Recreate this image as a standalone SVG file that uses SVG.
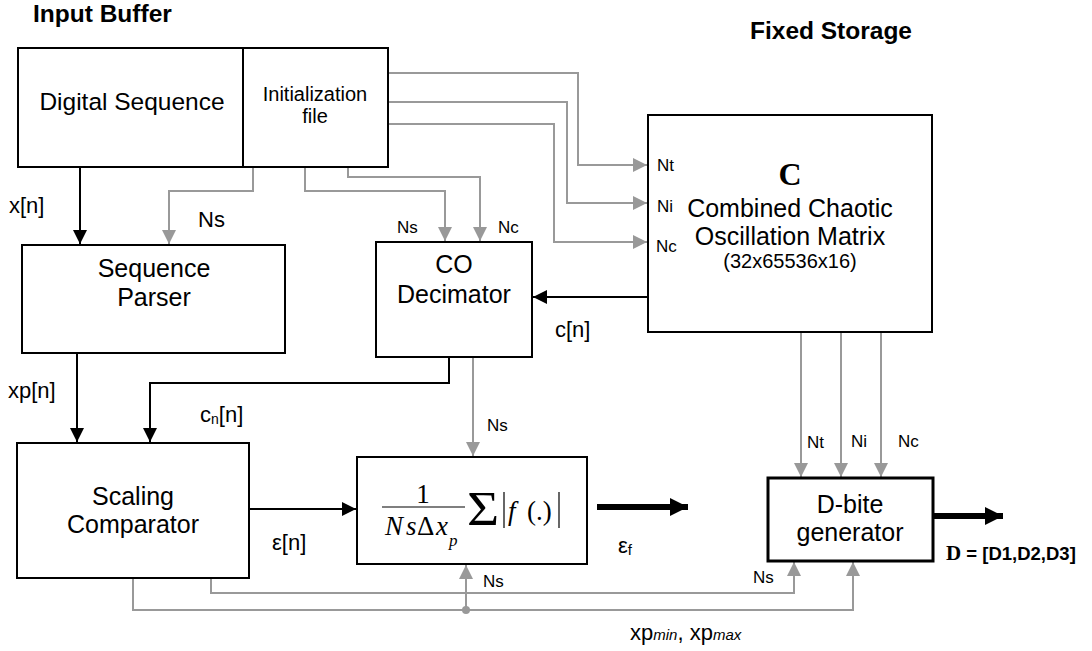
<svg xmlns="http://www.w3.org/2000/svg" width="1092" height="651" viewBox="0 0 1092 651">
<style>
.box{fill:#fff;stroke:#000;stroke-width:2}
.t{font-family:"Liberation Sans",Arial,sans-serif;fill:#000}
.blk{fill:none;stroke:#000;stroke-width:2}
.gry{fill:none;stroke:#999;stroke-width:2}
.ser{font-family:"Liberation Serif","Times New Roman",serif;fill:#000}
.big{font-size:25px}
.mid{font-size:22px}
.sm{font-size:17px}
</style>
<defs>
<marker id="ab" markerUnits="userSpaceOnUse" markerWidth="15" markerHeight="14" refX="14" refY="7" orient="auto"><path d="M0,0 L14,7 L0,14 z" fill="#000"/></marker>
<marker id="ag" markerUnits="userSpaceOnUse" markerWidth="15" markerHeight="14" refX="14" refY="7" orient="auto"><path d="M0,0 L14,7 L0,14 z" fill="#999"/></marker>
<marker id="at" markerUnits="userSpaceOnUse" markerWidth="19" markerHeight="18" refX="18" refY="9" orient="auto"><path d="M0,0 L18,9 L0,18 z" fill="#000"/></marker>
</defs>

<text class="t" x="33" y="22" font-size="24.5" font-weight="bold">Input Buffer</text>
<text class="t" x="912" y="39" font-size="24.5" font-weight="bold" text-anchor="end">Fixed Storage</text>

<g id="connectors">
<path class="blk" d="M80,167 V244" marker-end="url(#ab)"/>
<path class="blk" d="M77,353 V442" marker-end="url(#ab)"/>
<path class="blk" d="M449,357 V383 H150 V442" marker-end="url(#ab)"/>
<path class="blk" d="M648,297 H533" marker-end="url(#ab)"/>
<path class="blk" d="M249,509 H356" marker-end="url(#ab)"/>
<path d="M597,507 H688" fill="none" stroke="#000" stroke-width="6" marker-end="url(#at)"/>
<path d="M933,516 H1003" fill="none" stroke="#000" stroke-width="6" marker-end="url(#at)"/>
<path class="gry" d="M388,73 H578 V165 H647" marker-end="url(#ag)"/>
<path class="gry" d="M388,102 H567 V203 H647" marker-end="url(#ag)"/>
<path class="gry" d="M388,124 H554 V242 H647" marker-end="url(#ag)"/>
<path class="gry" d="M253,167 V191 H169 V244" marker-end="url(#ag)"/>
<path class="gry" d="M305,167 V191 H445 V241" marker-end="url(#ag)"/>
<path class="gry" d="M348,167 V177 H480 V241" marker-end="url(#ag)"/>
<path class="gry" d="M473,357 V456" marker-end="url(#ag)"/>
<path class="gry" d="M801,332 V477" marker-end="url(#ag)"/>
<path class="gry" d="M841,332 V477" marker-end="url(#ag)"/>
<path class="gry" d="M881,332 V477" marker-end="url(#ag)"/>
<path class="gry" d="M211,578 V593 H794 V562" marker-end="url(#ag)"/>
<path class="gry" d="M133,578 V610 H853 V562" marker-end="url(#ag)"/>
<path class="gry" d="M466,610 V565" marker-end="url(#ag)"/>
<circle cx="466" cy="610" r="4" fill="#999"/>
</g>

<g id="digital-sequence">
<rect class="box" x="18" y="48" width="225" height="119"/>
<text class="t" x="132" y="110" font-size="24.5" text-anchor="middle">Digital Sequence</text>
</g>
<g id="init-file">
<rect class="box" x="243" y="48" width="145" height="119"/>
<text class="t" x="315" y="101" font-size="20" text-anchor="middle">Initialization</text>
<text class="t" x="315" y="123" font-size="20" text-anchor="middle">file</text>
</g>

<g id="matrix-c">
<rect class="box" x="648" y="115" width="284" height="217"/>
<text class="ser" x="790" y="185" font-size="32" font-weight="bold" text-anchor="middle">C</text>
<text class="t big" x="790" y="217" text-anchor="middle">Combined Chaotic</text>
<text class="t big" x="790" y="245" text-anchor="middle">Oscillation Matrix</text>
<text class="t" x="790" y="268" font-size="20" text-anchor="middle">(32x65536x16)</text>
<text class="t sm" x="657" y="171">Nt</text>
<text class="t sm" x="657" y="212">Ni</text>
<text class="t sm" x="656" y="252">Nc</text>
</g>

<g id="sequence-parser">
<rect class="box" x="22" y="245" width="263" height="108"/>
<text class="t big" x="154" y="277" text-anchor="middle">Sequence</text>
<text class="t big" x="154" y="306" text-anchor="middle">Parser</text>
</g>

<g id="co-decimator">
<rect class="box" x="376" y="242" width="156" height="115"/>
<text class="t big" x="454" y="273" text-anchor="middle">CO</text>
<text class="t big" x="454" y="303" text-anchor="middle">Decimator</text>
</g>

<g id="scaling-comparator">
<rect class="box" x="17" y="443" width="232" height="135"/>
<text class="t big" x="133" y="505" text-anchor="middle">Scaling</text>
<text class="t big" x="133" y="533" text-anchor="middle">Comparator</text>
</g>

<g id="formula">
<rect class="box" x="357" y="457" width="230" height="107"/>
<text class="ser" x="423" y="503" font-size="27" text-anchor="middle">1</text>
<line x1="382" y1="507" x2="465" y2="507" stroke="#000" stroke-width="1.2"/>
<text class="ser" y="535" font-size="27" font-style="italic"><tspan x="385">N</tspan><tspan x="406">s</tspan><tspan x="417" font-style="normal">Δ</tspan><tspan x="436">x</tspan></text>
<text class="ser" x="449" y="546" font-size="17" font-style="italic">p</text>
<text class="ser" x="467" y="525" font-size="48" transform="translate(467 0) scale(1.15 1) translate(-467 0)">Σ</text>
<line x1="504" y1="492" x2="504" y2="528" stroke="#000" stroke-width="1.2"/>
<line x1="559" y1="492" x2="559" y2="528" stroke="#000" stroke-width="1.2"/>
<text class="ser" x="508" y="520" font-size="27" font-style="italic">f</text>
<text class="ser" x="527" y="520" font-size="27">(.)</text>
</g>

<g id="d-bite-generator">
<rect x="768" y="478" width="165" height="83" fill="#fff" stroke="#000" stroke-width="3"/>
<text class="t big" x="850" y="513" text-anchor="middle">D-bite</text>
<text class="t big" x="850" y="541" text-anchor="middle">generator</text>
</g>

<g id="labels">
<text class="t mid" x="9" y="213">x[n]</text>
<text class="t mid" x="198" y="227">Ns</text>
<text class="t sm" x="397" y="233">Ns</text>
<text class="t sm" x="498" y="233">Nc</text>
<text class="t mid" x="555" y="337">c[n]</text>
<text class="t mid" x="8" y="398">xp[n]</text>
<text class="t mid" x="200" y="422">c<tspan font-size="14" dy="2">n</tspan><tspan dy="-2">[n]</tspan></text>
<text class="t sm" x="487" y="431">Ns</text>
<text class="t mid" x="272" y="550">ε[n]</text>
<text class="t mid" x="618" y="553">ε<tspan font-size="15" dy="2">f</tspan></text>
<text class="t sm" x="807" y="448">Nt</text>
<text class="t sm" x="851" y="447">Ni</text>
<text class="t sm" x="898" y="447">Nc</text>
<text class="t sm" x="483" y="587">Ns</text>
<text class="t sm" x="753" y="583">Ns</text>
<text class="t mid" x="630" y="640">xp<tspan font-size="15" font-style="italic">min</tspan>, xp<tspan font-size="15" font-style="italic">max</tspan></text>
<text x="946" y="560" font-weight="bold"><tspan class="ser" font-size="21">D</tspan><tspan class="t" font-size="18.5"> = [D1,D2,D3]</tspan></text>
</g>
</svg>
